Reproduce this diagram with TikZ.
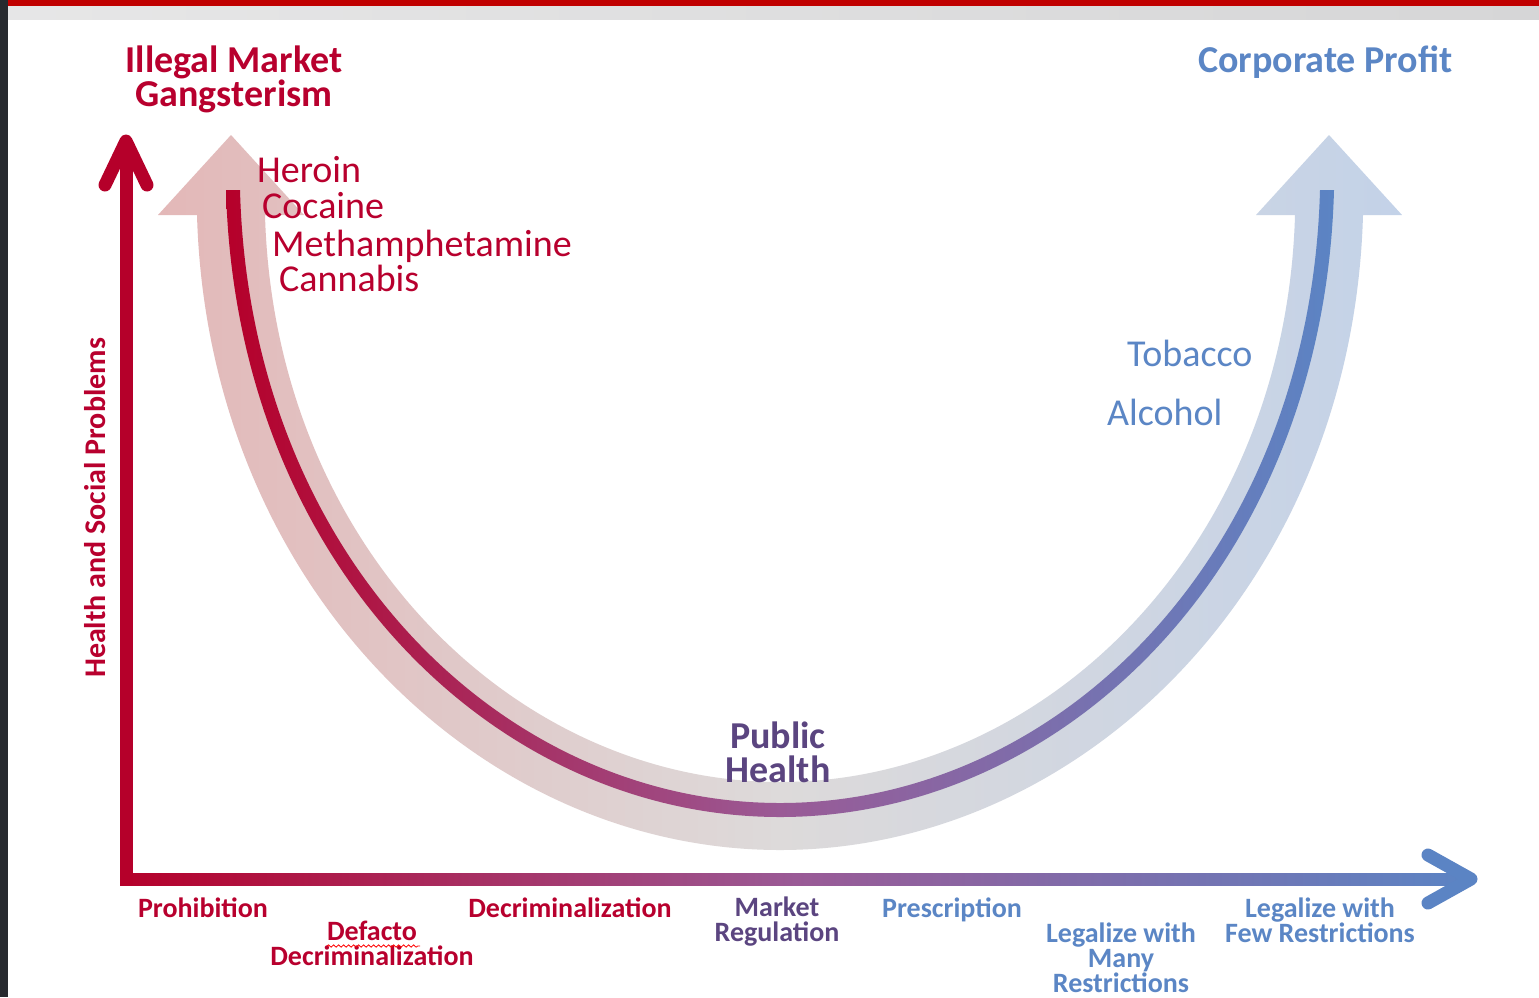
\documentclass[tikz,border=0pt]{standalone}
\usepackage{fontspec}
\setmainfont{Carlito}
\usetikzlibrary{positioning,decorations.pathmorphing}

\definecolor{AxisRed}{HTML}{B5002A}
\definecolor{AxisPurple}{HTML}{9A5A96}
\definecolor{AxisBlue}{HTML}{5B84C4}
\definecolor{BandPink}{HTML}{E3B8B8}
\definecolor{BandGray}{HTML}{DDDADA}
\definecolor{BandBlue}{HTML}{C3D2E8}
\definecolor{TextRed}{HTML}{B8002E}
\definecolor{TextBlue}{HTML}{5B86C5}
\definecolor{TextPurple}{HTML}{5B4580}
\definecolor{BarRed}{HTML}{C00000}
\definecolor{BarGray}{HTML}{D6D6D7}
\definecolor{Frame}{HTML}{272A2F}

\tikzstyle{Title} = [font=\bfseries\fontsize{38}{34}\selectfont, inner sep=0, align=center]
\tikzstyle{Drug} = [font=\fontsize{38}{40}\selectfont, inner sep=0, anchor=base west]
\tikzstyle{Policy} = [font=\bfseries\fontsize{28}{25}\selectfont, inner sep=0, align=center, anchor=base]
\tikzstyle{Chevron} = [line width=13pt, line cap=round, line join=round]

\begin{document}
\begin{tikzpicture}[x=1pt, y=-1pt]
  % page, frame and header bars
  \fill[white] (0,0) rectangle (1539,997);
  \useasboundingbox (0,0) rectangle (1539,997);
  \fill[Frame] (0,0) rectangle (8,997);
  \fill[BarRed] (8,0) rectangle (1539,6);
  \shade[left color=BarGray!60, right color=BarGray] (8,6) rectangle (1539,19);

  % wide pale band with its two heads
  \shade[left color=BandPink, right color=BandBlue, middle color=BandGray]
    (158,215) -- (231,135) -- (304,215) -- (265,215)
    .. controls (274.4,545.2) and (513.6,782) .. (780,782)
    .. controls (1046.4,782) and (1285.6,545.2) .. (1295,215)
    -- (1256,215) -- (1329,135) -- (1402,215) -- (1363,215)
    .. controls (1352.4,584.8) and (1081.6,850) .. (780,850)
    .. controls (478.4,850) and (207.6,584.8) .. (197,215) -- cycle;

  % thin line inside the band
  \shade[left color=AxisRed, right color=AxisBlue, middle color=AxisPurple]
    (226,190) .. controls (236.1,564.2) and (494.4,817) .. (780,817)
    .. controls (1065.6,817) and (1323.9,564.2) .. (1334,190)
    -- (1320,190) .. controls (1310.1,555.8) and (1058.4,803) .. (780,803)
    .. controls (501.6,803) and (249.9,555.8) .. (240,190) -- cycle;

  % axes
  \coordinate (origin) at (126,885);
  \coordinate (yend) at (126,141);
  \coordinate (xend) at (1471,879);
  \shade[left color=AxisRed, right color=AxisBlue, middle color=AxisPurple]
    (120,873) rectangle (1471,885);
  \draw[AxisRed, line width=13pt] (origin) -- (yend);
  \draw[AxisRed, Chevron] (105,185) -- (yend) -- (147,185);
  \draw[AxisBlue, Chevron] (1428,855) -- (xend) -- (1428,903);

  % titles and substances (base = last line of a node)
  \node[Title, TextRed, anchor=base] (illegal) at (234,106) {Illegal Market\\Gangsterism};
  \node[Title, TextBlue, anchor=base west] (profit) at (1198,72) {Corporate Profit};
  \node[Drug, TextRed] (heroin) at (257,182) {Heroin};
  \node[Drug, TextRed] (cocaine) at (262,218) {Cocaine};
  \node[Drug, TextRed] (meth) at (272,256) {Methamphetamine};
  \node[Drug, TextRed] (cannabis) at (279,291) {Cannabis};
  \node[Drug, TextBlue] (tobacco) at (1127,366) {Tobacco};
  \node[Drug, TextBlue] (alcohol) at (1107,425) {Alcohol};
  \node[Title, TextPurple, anchor=base] (health) at (778,782) {Public\\Health};
  \node[font=\bfseries\fontsize{30}{30}\selectfont, TextRed, rotate=90, inner sep=0] (problems) at (95,508) {Health and Social Problems};

  % policy labels along the bottom
  \node[Policy, TextRed] (prohibition) at (203,917) {Prohibition};
  \node[Policy, TextRed] (defacto) at (372,965) {Defacto\\Decriminalization};
  \node[Policy, TextRed] (decrim) at (570,917) {Decriminalization};
  \node[Policy, TextPurple] (market) at (777,941) {Market\\Regulation};
  \node[Policy, TextBlue] (prescription) at (952,917) {Prescription};
  \node[Policy, TextBlue] (many) at (1121,992) {Legalize with\\Many\\Restrictions};
  \node[Policy, TextBlue] (few) at (1320,942) {Legalize with\\Few Restrictions};
  \draw[red, line width=0.8pt, decorate, decoration={snake, amplitude=1.2pt, segment length=5pt}]
    (327,946) -- (420,946);
\end{tikzpicture}
\end{document}
